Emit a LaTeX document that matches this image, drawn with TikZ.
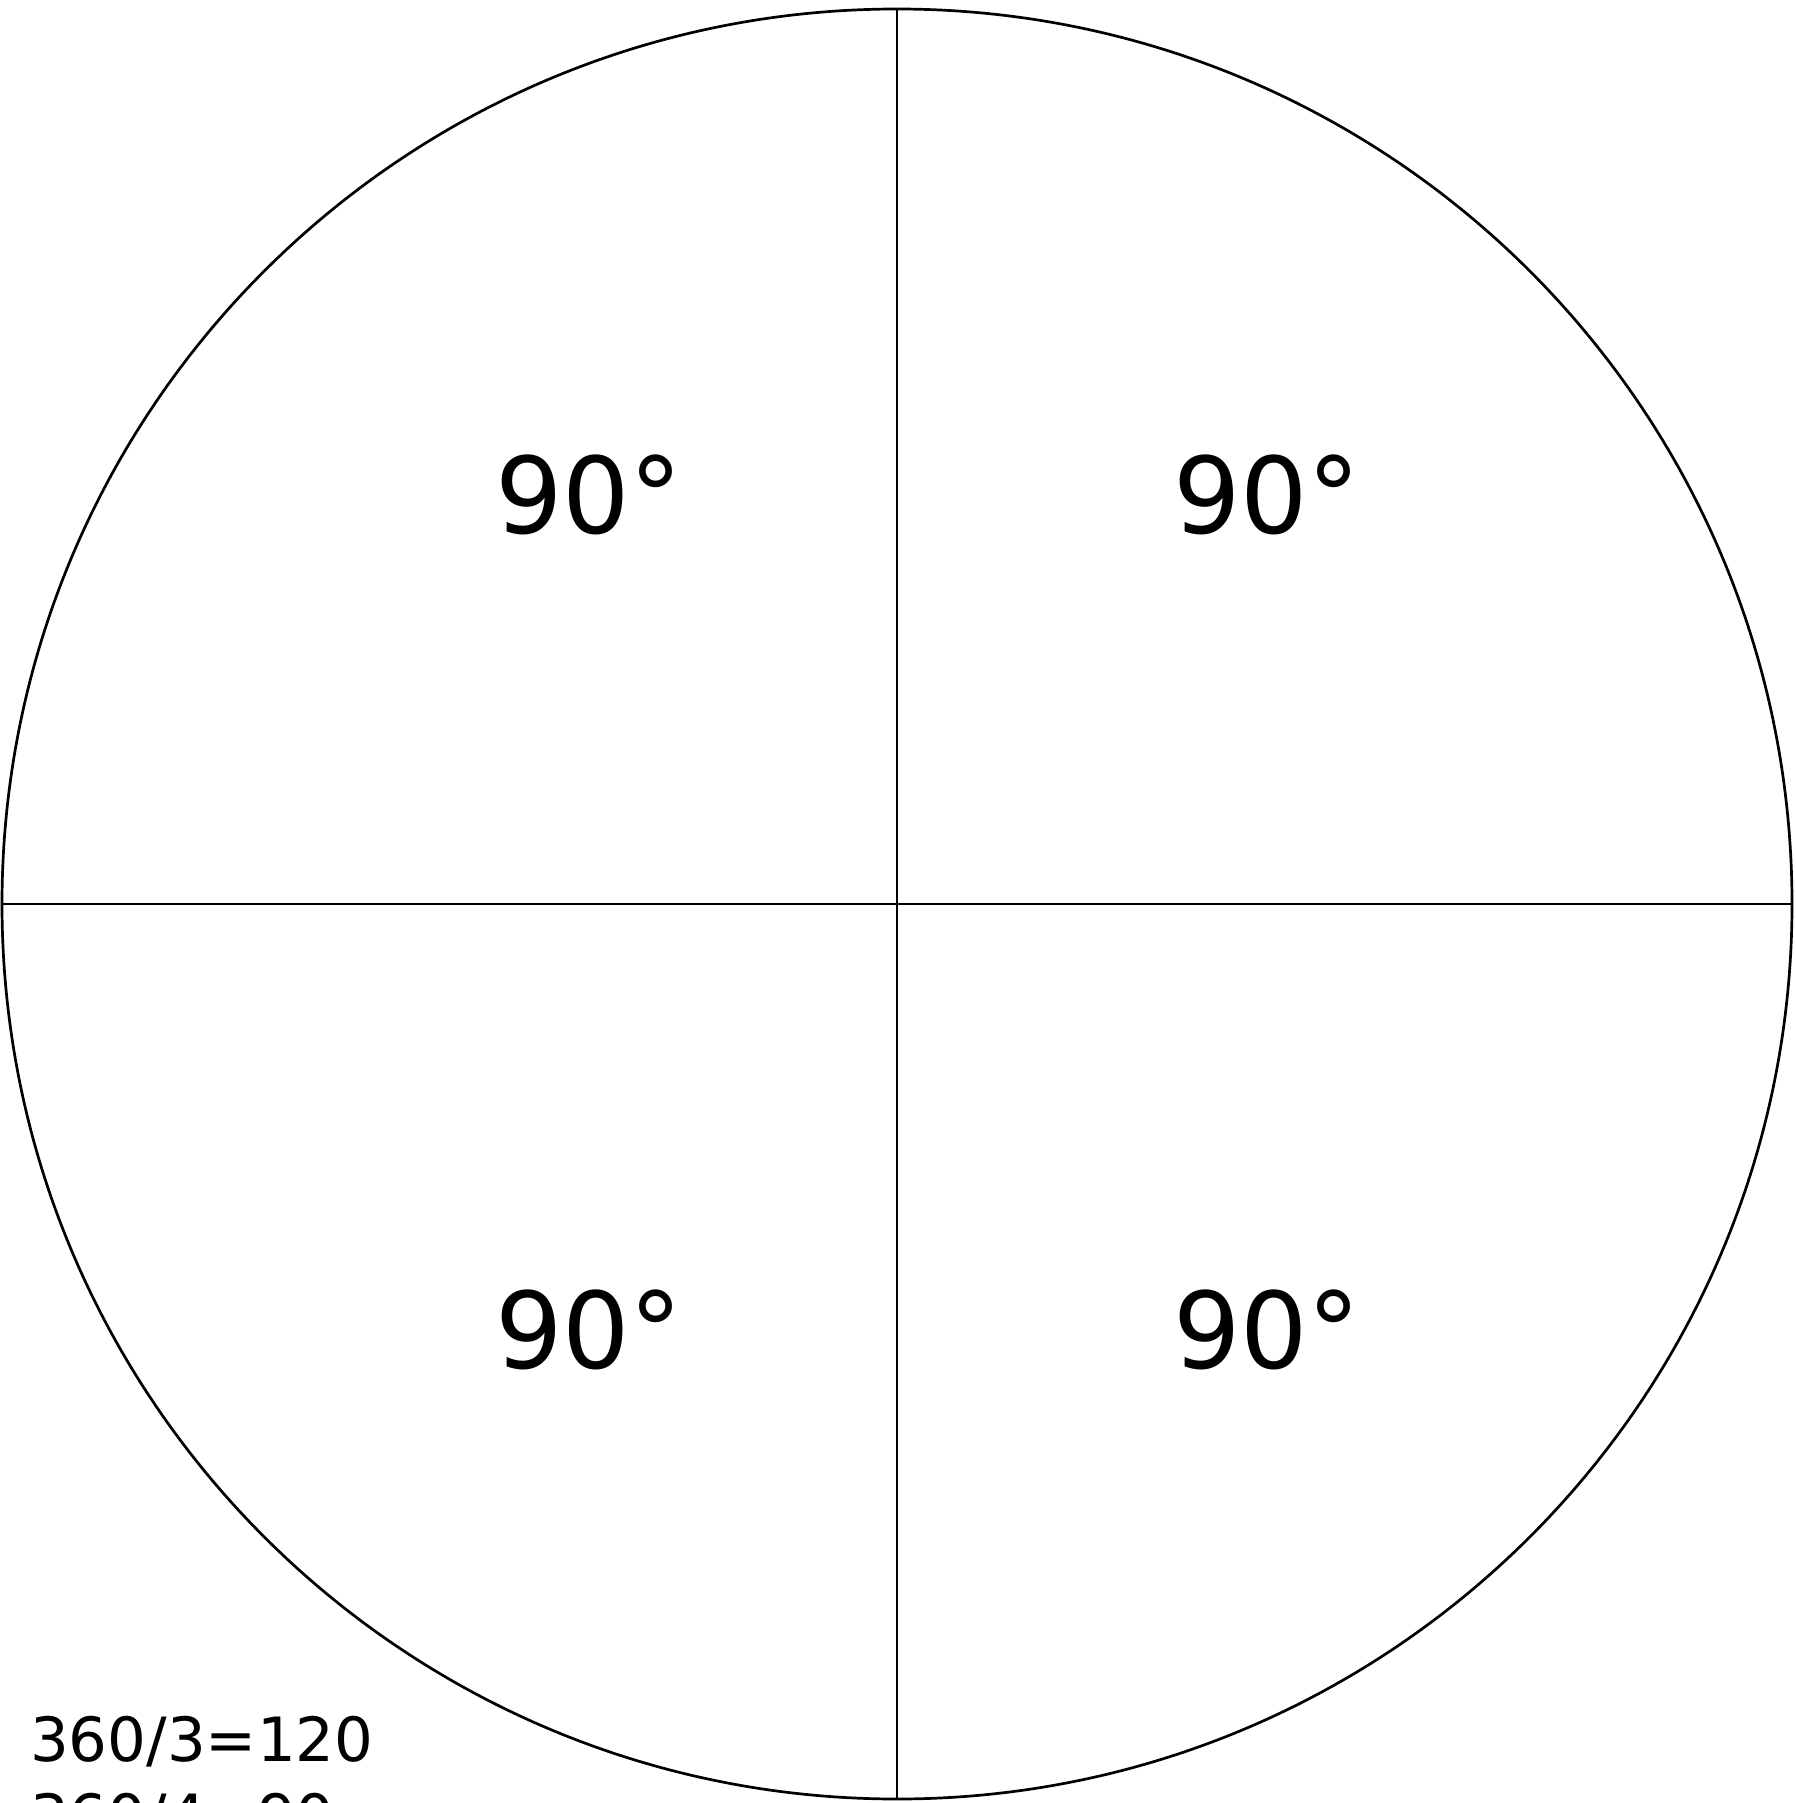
\documentclass[tikz,border=0pt]{standalone}
\usepackage{fontspec}
\setmainfont{DejaVu Sans}
\tikzset{
  ln/.style={line width=2.7pt, black},
  deg/.style={anchor=base, inner sep=0pt, font=\fontsize{106}{106}\selectfont},
  note/.style={anchor=base west, inner sep=0pt, font=\fontsize{61}{77}\selectfont}
}
\begin{document}
\begin{tikzpicture}[x=1pt,y=-1pt]
\useasboundingbox (0,0) rectangle (1795,1803);
\coordinate (c) at (897,904);
\coordinate (t) at (897,9);
\coordinate (b) at (897,1799);
\coordinate (l) at (2,904);
\coordinate (r) at (1792,904);
\draw[ln] (c) circle[radius=895];
\draw[ln] (t) -- (b);
\draw[ln] (l) -- (r);
\node[deg] (q1) at (589,533) {90°};
\node[deg] (q2) at (1267,533) {90°};
\node[deg] (q3) at (589,1368) {90°};
\node[deg] (q4) at (1267,1368) {90°};
\node[note] (n1) at (30,1761) {360/3=120};
\node[note] (n2) at (30,1838) {360/4=90};
\end{tikzpicture}
\end{document}
